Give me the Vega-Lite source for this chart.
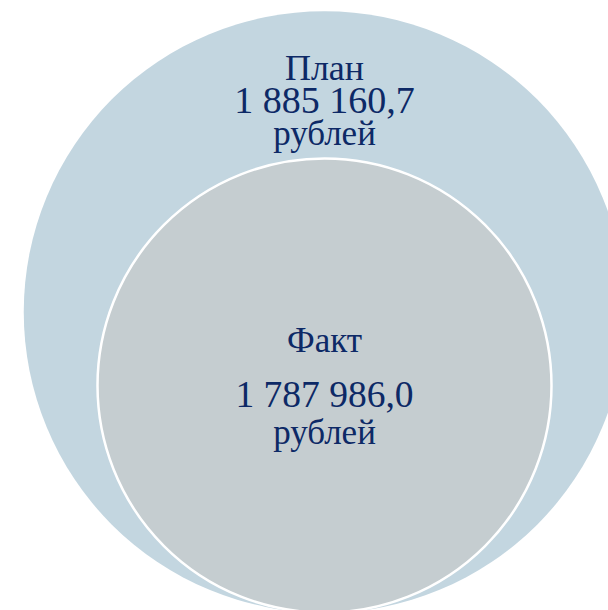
{
  "$schema": "https://vega.github.io/schema/vega-lite/v6.json",
  "width": 608,
  "height": 610,
  "padding": 0,
  "autosize": {"type": "none"},
  "background": "#ffffff",
  "config": {
    "view": {"stroke": null},
    "text": {"font": "Times New Roman, Liberation Serif, serif"},
    "locale": {"number": {"decimal": ",", "thousands": "\u00a0", "grouping": [3], "currency": ["", ""]}}
  },
  "data": {
    "values": [
      {"label": "План", "value": 1885160.7, "unit": "рублей"},
      {"label": "Факт", "value": 1787986.0, "unit": "рублей"}
    ]
  },
  "encoding": {
    "y": {
      "field": "label",
      "type": "nominal",
      "axis": null,
      "scale": {"type": "point", "domain": ["План", "Факт"], "range": [312, 385.5], "padding": 0}
    }
  },
  "layer": [
    {
      "mark": {"type": "point", "shape": "circle", "filled": true, "opacity": 1, "stroke": "#ffffff", "xOffset": 20.5},
      "encoding": {
        "size": {
          "field": "value",
          "type": "quantitative",
          "legend": null,
          "scale": {"zero": false, "domain": [1787986.0, 1885160.7], "range": [206116, 361802]}
        },
        "color": {
          "field": "label",
          "type": "nominal",
          "legend": null,
          "scale": {"domain": ["План", "Факт"], "range": ["#c3d6e0", "#c5cdd0"]}
        },
        "strokeWidth": {
          "field": "label",
          "type": "nominal",
          "legend": null,
          "scale": {"domain": ["План", "Факт"], "range": [0, 2.5]}
        },
        "order": {"field": "value", "sort": "descending"}
      }
    },
    {
      "transform": [{"filter": "datum.label === 'План'"}],
      "mark": {"type": "text", "font": "Times New Roman, Liberation Serif, serif", "fontSize": 36, "color": "#0d2966", "baseline": "alphabetic", "align": "center", "dx": 20.5, "dy": -232},
      "encoding": {"text": {"field": "label", "type": "nominal"}}
    },
    {
      "transform": [{"filter": "datum.label === 'План'"}],
      "mark": {"type": "text", "font": "Times New Roman, Liberation Serif, serif", "fontSize": 38, "color": "#0d2966", "baseline": "alphabetic", "align": "center", "dx": 20.5, "dy": -199.3},
      "encoding": {"text": {"field": "value", "type": "quantitative", "format": ",.1f"}}
    },
    {
      "transform": [{"filter": "datum.label === 'План'"}],
      "mark": {"type": "text", "font": "Times New Roman, Liberation Serif, serif", "fontSize": 35, "color": "#0d2966", "baseline": "alphabetic", "align": "center", "dx": 20.5, "dy": -167},
      "encoding": {"text": {"field": "unit", "type": "nominal"}}
    },
    {
      "transform": [{"filter": "datum.label === 'Факт'"}],
      "mark": {"type": "text", "font": "Times New Roman, Liberation Serif, serif", "fontSize": 35, "color": "#0d2966", "baseline": "alphabetic", "align": "center", "dx": 20.5, "dy": -33.8},
      "encoding": {"text": {"field": "label", "type": "nominal"}}
    },
    {
      "transform": [{"filter": "datum.label === 'Факт'"}],
      "mark": {"type": "text", "font": "Times New Roman, Liberation Serif, serif", "fontSize": 37.5, "color": "#0d2966", "baseline": "alphabetic", "align": "center", "dx": 20.5, "dy": 21.2},
      "encoding": {"text": {"field": "value", "type": "quantitative", "format": ",.1f"}}
    },
    {
      "transform": [{"filter": "datum.label === 'Факт'"}],
      "mark": {"type": "text", "font": "Times New Roman, Liberation Serif, serif", "fontSize": 35, "color": "#0d2966", "baseline": "alphabetic", "align": "center", "dx": 20.5, "dy": 58.8},
      "encoding": {"text": {"field": "unit", "type": "nominal"}}
    }
  ]
}
